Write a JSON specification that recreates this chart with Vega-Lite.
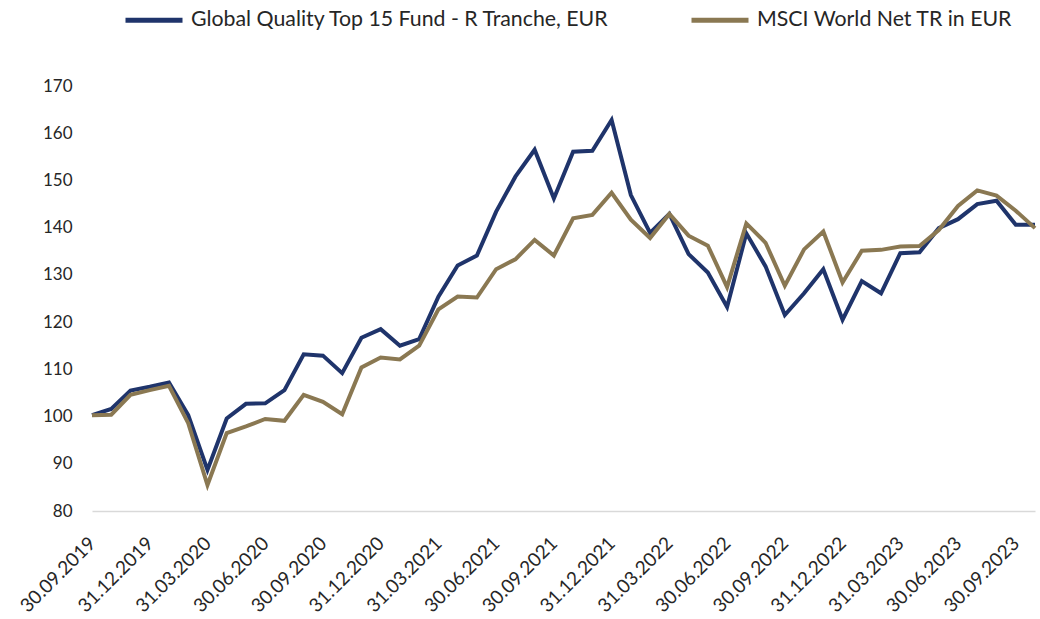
{
  "$schema": "https://vega.github.io/schema/vega-lite/v6.json",
  "autosize": "none",
  "width": 943,
  "height": 425,
  "padding": {"left": 92, "top": 86, "right": 5, "bottom": 108},
  "background": "white",
  "config": {
    "view": {"stroke": null},
    "font": "Lato",
    "axis": {"labelFont": "Lato", "labelColor": "#262626"},
    "legend": {"labelFont": "Lato", "labelColor": "#262626"}
  },
  "data": {
    "values": [
      {"date": "30.09.2019", "fund": 100.3, "msci": 100.3},
      {"date": "31.10.2019", "fund": 101.6, "msci": 100.4},
      {"date": "30.11.2019", "fund": 105.5, "msci": 104.6},
      {"date": "31.12.2019", "fund": 106.3, "msci": 105.6},
      {"date": "31.01.2020", "fund": 107.2, "msci": 106.5},
      {"date": "29.02.2020", "fund": 100.3, "msci": 98.6},
      {"date": "31.03.2020", "fund": 88.7, "msci": 85.5},
      {"date": "30.04.2020", "fund": 99.6, "msci": 96.5},
      {"date": "31.05.2020", "fund": 102.7, "msci": 97.9},
      {"date": "30.06.2020", "fund": 102.8, "msci": 99.5},
      {"date": "31.07.2020", "fund": 105.6, "msci": 99.1},
      {"date": "31.08.2020", "fund": 113.2, "msci": 104.6},
      {"date": "30.09.2020", "fund": 112.9, "msci": 103.1},
      {"date": "31.10.2020", "fund": 109.2, "msci": 100.5},
      {"date": "30.11.2020", "fund": 116.7, "msci": 110.4},
      {"date": "31.12.2020", "fund": 118.5, "msci": 112.5},
      {"date": "31.01.2021", "fund": 115.0, "msci": 112.1},
      {"date": "28.02.2021", "fund": 116.4, "msci": 115.0},
      {"date": "31.03.2021", "fund": 125.4, "msci": 122.7},
      {"date": "30.04.2021", "fund": 132.0, "msci": 125.4},
      {"date": "31.05.2021", "fund": 134.1, "msci": 125.2},
      {"date": "30.06.2021", "fund": 143.4, "msci": 131.2},
      {"date": "31.07.2021", "fund": 150.8, "msci": 133.3},
      {"date": "31.08.2021", "fund": 156.5, "msci": 137.4},
      {"date": "30.09.2021", "fund": 146.2, "msci": 134.1},
      {"date": "31.10.2021", "fund": 156.1, "msci": 142.0},
      {"date": "30.11.2021", "fund": 156.3, "msci": 142.7},
      {"date": "31.12.2021", "fund": 162.8, "msci": 147.4},
      {"date": "31.01.2022", "fund": 146.9, "msci": 141.7},
      {"date": "28.02.2022", "fund": 138.9, "msci": 137.8},
      {"date": "31.03.2022", "fund": 142.9, "msci": 142.9},
      {"date": "30.04.2022", "fund": 134.4, "msci": 138.3},
      {"date": "31.05.2022", "fund": 130.5, "msci": 136.2},
      {"date": "30.06.2022", "fund": 123.2, "msci": 127.4},
      {"date": "31.07.2022", "fund": 138.8, "msci": 140.9},
      {"date": "31.08.2022", "fund": 131.8, "msci": 136.8},
      {"date": "30.09.2022", "fund": 121.5, "msci": 127.7},
      {"date": "31.10.2022", "fund": 126.1, "msci": 135.4},
      {"date": "30.11.2022", "fund": 131.2, "msci": 139.2},
      {"date": "31.12.2022", "fund": 120.5, "msci": 128.4},
      {"date": "31.01.2023", "fund": 128.7, "msci": 135.1},
      {"date": "28.02.2023", "fund": 126.1, "msci": 135.3},
      {"date": "31.03.2023", "fund": 134.6, "msci": 136.0},
      {"date": "30.04.2023", "fund": 134.8, "msci": 136.1},
      {"date": "31.05.2023", "fund": 139.9, "msci": 139.5},
      {"date": "30.06.2023", "fund": 141.8, "msci": 144.6},
      {"date": "31.07.2023", "fund": 145.0, "msci": 147.9},
      {"date": "31.08.2023", "fund": 145.7, "msci": 146.8},
      {"date": "30.09.2023", "fund": 140.6, "msci": 143.6},
      {"date": "31.10.2023", "fund": 140.6, "msci": 139.9}
    ]
  },
  "transform": [{"fold": ["fund", "msci"], "as": ["series", "value"]}],
  "mark": {"type": "line", "strokeWidth": 4},
  "encoding": {
    "x": {
      "field": "date",
      "type": "ordinal",
      "sort": null,
      "scale": {"type": "point", "padding": 0},
      "axis": {
        "title": null,
        "values": ["30.09.2019","31.12.2019","31.03.2020","30.06.2020","30.09.2020","31.12.2020","31.03.2021","30.06.2021","30.09.2021","31.12.2021","31.03.2022","30.06.2022","30.09.2022","31.12.2022","31.03.2023","30.06.2023","30.09.2023"],
        "labelAngle": -45,
        "labelAlign": "right",
        "labelBaseline": "middle",
        "labelFontSize": 19,
        "labelPadding": 29,
        "ticks": false,
        "domainColor": "#d9d9d9",
        "domainWidth": 1.5,
        "grid": false
      }
    },
    "y": {
      "field": "value",
      "type": "quantitative",
      "scale": {"domain": [80, 170], "nice": false, "zero": false},
      "axis": {
        "title": null,
        "values": [80, 90, 100, 110, 120, 130, 140, 150, 160, 170],
        "labelFontSize": 17,
        "labelPadding": 20,
        "ticks": false,
        "domain": false,
        "grid": false
      }
    },
    "color": {
      "field": "series",
      "type": "nominal",
      "scale": {"domain": ["fund", "msci"], "range": ["#1f346b", "#8a7852"]},
      "legend": {
        "title": null,
        "orient": "none",
        "legendX": 31,
        "legendY": -97,
        "direction": "horizontal",
        "symbolType": "stroke",
        "symbolSize": 3249,
        "symbolStrokeWidth": 5,
        "labelFontSize": 21.3,
        "labelOffset": 6,
        "columnPadding": 71,
        "labelLimit": 700,
        "padding": 0,
        "labelExpr": "datum.label == 'fund' ? 'Global Quality Top 15 Fund - R Tranche, EUR' : 'MSCI World Net TR in EUR'"
      }
    }
  }
}
